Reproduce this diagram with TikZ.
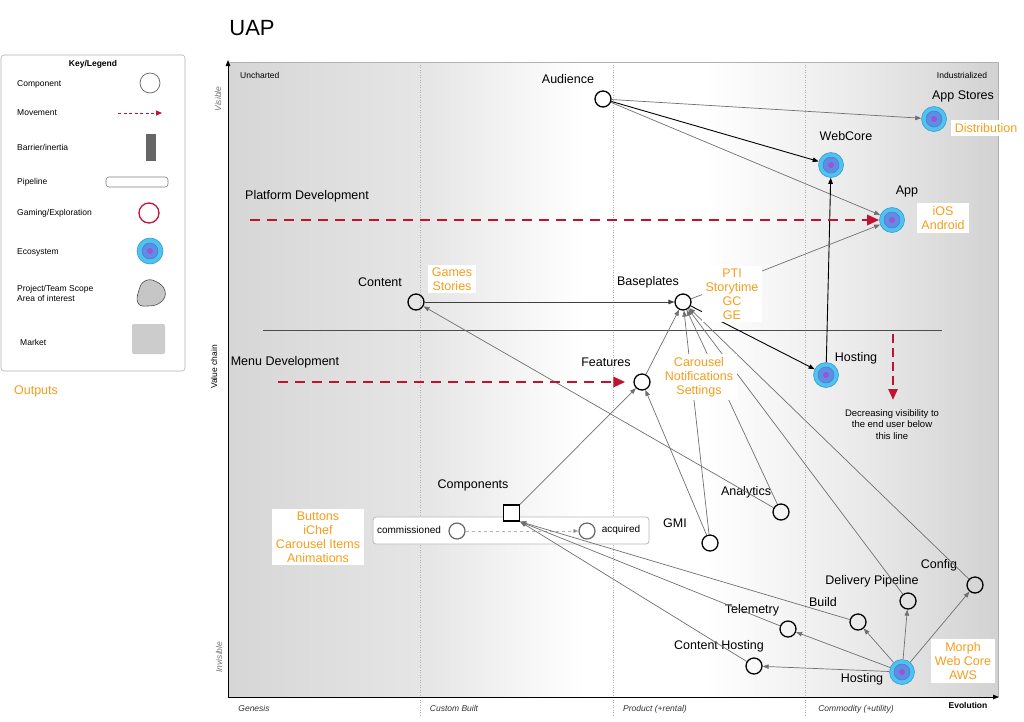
\documentclass[tikz,border=0pt]{standalone}
\usepackage{fontspec}
\setmainfont{Liberation Sans}
\usetikzlibrary{arrows.meta}
\definecolor{ecoout}{HTML}{4EC3F0}
\definecolor{ecoborder}{HTML}{3A9AD0}
\definecolor{ecomid}{HTML}{5E8DE6}
\definecolor{ecomidb}{HTML}{4A78C8}
\definecolor{ecoctr}{HTML}{9A55D0}
\definecolor{outorange}{HTML}{F59E1B}
\definecolor{movred}{HTML}{C0142E}
\definecolor{linegray}{HTML}{707070}
\definecolor{gamered}{HTML}{C0143C}
\definecolor{bgleft}{HTML}{D6D6D6}
\definecolor{bgl2}{HTML}{E6E6E6}
\definecolor{bgr2}{HTML}{EAEAEA}
\definecolor{bgright}{HTML}{D2D2D2}
\pgfdeclarehorizontalshading{mapbg}{100bp}{color(0bp)=(bgleft); color(25bp)=(bgleft); color(38bp)=(bgl2); color(48bp)=(white); color(56bp)=(white); color(66bp)=(bgr2); color(75bp)=(bgright); color(100bp)=(bgright)}
\begin{document}
\begin{tikzpicture}[x=1pt,y=-1pt,
  lbl/.style={font=\fontsize{12.5}{14}\selectfont, inner sep=0pt},
  smalltxt/.style={font=\fontsize{8.5}{10}\selectfont, inner sep=0pt},
  legtxt/.style={font=\fontsize{8.5}{10}\selectfont, inner sep=0pt, anchor=west, align=left},
  stagetxt/.style={font=\itshape\fontsize{8.5}{10}\selectfont, inner sep=0pt, text=black!80},
  outbox/.style={fill=white, text=outorange, align=center, font=\fontsize{12.5}{14}\selectfont, inner xsep=4pt, inner ysep=3pt},
  comp/.style={circle, draw=black, line width=1.3pt, minimum size=16pt, inner sep=0pt},
  pipecirc/.style={circle, draw=black!60, line width=1.2pt, fill=white, minimum size=16pt, inner sep=0pt},
  eco/.style={circle, draw=ecoborder, line width=0.6pt, fill=ecoout, minimum size=25pt, inner sep=0pt,
    path picture={\fill[ecomid,draw=ecomidb,line width=0.5pt] (path picture bounding box.center) circle (8pt);
      \fill[ecoctr] (path picture bounding box.center) circle (3pt);}},
  conn/.style={draw=linegray, line width=0.7pt, -{Triangle[length=6pt,width=4.5pt]}},
  connb/.style={draw=black, line width=0.9pt, -{Triangle[length=6pt,width=4.5pt]}},
  move/.style={draw=movred, line width=2.8pt, dash pattern=on 10pt off 7pt, -{Triangle[length=12pt,width=10pt]}},
  gridln/.style={draw=gray!60, line width=0.5pt, dotted}
]
\useasboundingbox (0,0) rectangle (1024,721);
\fill[white] (0,0) rectangle (1024,721);

% ---------- title ----------
\node[font=\fontsize{22}{24}\selectfont, inner sep=0pt] (title) at (252,28) {UAP};

% ---------- legend ----------
\node[draw=gray!60, line width=0.6pt, rounded corners=3pt, fill=white, minimum width=184pt, minimum height=316pt, inner sep=0pt] (legend) at (93,213) {};
\node[font=\bfseries\fontsize{8.5}{10}\selectfont, inner sep=0pt] (keyt) at (93,64) {Key/Legend};
\node[legtxt] (lcomp) at (17,84) {Component};
\node[circle, draw=black!60, line width=0.7pt, minimum size=20pt, inner sep=0pt] (lcompc) at (150,83) {};
\node[legtxt] (lmove) at (17,113) {Movement};
\coordinate (lmoves) at (118,113);
\coordinate (lmovee) at (162,113);
\draw[draw=movred, line width=0.9pt, dash pattern=on 3pt off 2.5pt, -{Triangle[length=6pt,width=5pt]}] (lmoves) -- (lmovee);
\node[legtxt] (lbar) at (17,147) {Barrier/inertia};
\node[fill=black!60, minimum width=10pt, minimum height=27pt, inner sep=0pt] (lbarr) at (151,147.5) {};
\node[legtxt] (lpipe) at (17,182) {Pipeline};
\node[draw=black!50, line width=0.6pt, rounded corners=3pt, minimum width=62pt, minimum height=10pt, inner sep=0pt] (lpiper) at (137,182) {};
\node[legtxt] (lgame) at (17,213) {Gaming/Exploration};
\node[circle, draw=gamered, line width=1.3pt, minimum size=20pt, inner sep=0pt] (lgamec) at (149,213) {};
\node[legtxt] (leco) at (17,252) {Ecosystem};
\node[eco, minimum size=26pt] (lecoc) at (150,251) {};
\node[legtxt] (lscope) at (17,293.5) {Project/Team Scope\\Area of interest};
\draw[fill=gray!45, draw=black!70, line width=0.6pt] plot[smooth cycle, tension=0.8] coordinates {(145,281) (156,281.5) (165,291) (161,302) (148,306) (138,303) (139,290)};
\node[legtxt] (lmarket) at (20,342) {Market};
\node[fill=gray!40, rounded corners=2pt, minimum width=33pt, minimum height=30pt, inner sep=0pt] (lmarketr) at (148.5,339) {};
\node[font=\fontsize{12.5}{14}\selectfont, text=outorange, inner sep=0pt] (outputs) at (36,391) {Outputs};

% ---------- map background ----------
\shade[shading=mapbg] (228,62) rectangle (998,697);
\draw[gray!60, line width=0.6pt] (228,62) -- (998,62) -- (998,697);
\draw[gridln] (420,62) -- (420,716);
\draw[gridln] (613,62) -- (613,716);
\draw[gridln] (805,62) -- (805,716);
\draw[line width=1pt, -{Triangle[length=6pt,width=4.5pt]}] (228,697) -- (228,60);
\draw[line width=1pt, -{Triangle[length=6pt,width=4.5pt]}] (228,697) -- (999,697);

\node[smalltxt, anchor=west] (unch) at (240,75) {Uncharted};
\node[smalltxt] (indus) at (962,75) {Industrialized};
\node[font=\bfseries\fontsize{8.5}{10}\selectfont, inner sep=0pt] (evol) at (968,705) {Evolution};
\node[stagetxt] (gen) at (254,708) {Genesis};
\node[stagetxt] (cust) at (454,708) {Custom Built};
\node[stagetxt] (prod) at (655,709) {Product (+rental)};
\node[stagetxt] (commod) at (856,709) {Commodity (+utility)};
\node[font=\itshape\fontsize{8.5}{10}\selectfont, text=black!55, inner sep=0pt, rotate=90] (vis) at (218,99) {Visible};
\node[font=\itshape\fontsize{8.5}{10}\selectfont, text=black!55, inner sep=0pt, rotate=90] (invis) at (219,657) {Invisible};
\node[font=\fontsize{8.5}{10}\selectfont, inner sep=0pt, rotate=90] (vchain) at (214,367) {Value chain};

% visibility line
\coordinate (hl1) at (263,330);
\coordinate (hl2) at (942,330);
\draw[black!70, line width=0.9pt] (hl1) -- (hl2);

% ---------- pipeline ----------
\node[draw=gray!55, line width=0.8pt, fill=white, rounded corners=3pt, minimum width=276pt, minimum height=27pt, inner sep=0pt] (pipe) at (511,530.5) {};
\node[font=\fontsize{10}{12}\selectfont, inner sep=0pt] (commt) at (409,530) {commissioned};
\node[font=\fontsize{10}{12}\selectfont, inner sep=0pt] (acqt) at (621,530) {acquired};
\node[pipecirc] (comm) at (457,531) {};
\node[pipecirc] (acq) at (587,531) {};
\draw[draw=gray!60, line width=0.7pt, dashed, -{Triangle[length=5pt,width=4pt,fill=black!60]}] (comm) -- (acq);

% ---------- components ----------
\node[comp] (audience) at (603,99) {};
\node[lbl] (audiencet) at (568,79) {Audience};
\node[eco] (appstores) at (934,119) {};
\node[lbl] (appstorest) at (963,96) {App Stores};
\node[eco] (webcore) at (831,165) {};
\node[lbl] (webcoret) at (846,136) {WebCore};
\node[eco] (app) at (892,220) {};
\node[lbl] (appt) at (907,191) {App};
\node[comp] (content) at (416,302) {};
\node[lbl] (contentt) at (380,282) {Content};
\node[comp] (baseplates) at (683,302) {};
\node[lbl] (baseplatest) at (648,282) {Baseplates};
\node[comp] (features) at (642,382) {};
\node[lbl] (featurest) at (606,362) {Features};
\node[eco] (hostingup) at (826,375) {};
\node[lbl] (hostingupt) at (856,358) {Hosting};
\node[comp] (analytics) at (781,512) {};
\node[lbl] (analyticst) at (746,492) {Analytics};
\node[comp] (gmi) at (710,543) {};
\node[lbl] (gmit) at (675,523) {GMI};
\node[draw=black, line width=1.3pt, fill=white, minimum size=16pt, inner sep=0pt] (components) at (511.5,513) {};
\node[lbl] (componentst) at (473,485) {Components};
\node[comp] (config) at (975,585) {};
\node[lbl] (configt) at (939,565) {Config};
\node[comp] (delivery) at (908,601) {};
\node[lbl] (deliveryt) at (872,581) {Delivery Pipeline};
\node[comp] (build) at (858,622) {};
\node[lbl] (buildt) at (823,602) {Build};
\node[comp] (telemetry) at (788,629) {};
\node[lbl] (telemetryt) at (752,610) {Telemetry};
\node[comp] (contenthost) at (754,666) {};
\node[lbl] (contenthostt) at (719,646) {Content Hosting};
\node[eco] (hostinglow) at (902,672) {};
\node[lbl] (hostinglowt) at (862,679) {Hosting};

% ---------- connectors ----------
\draw[conn] (audience) -- (appstores);
\draw[connb] (audience) -- (webcore);
\draw[conn] (audience) -- (app);
\draw[connb] (hostingup) -- (webcore);
\draw[conn] (baseplates) -- (app);
\draw[connb, draw=black!75] (content) -- (baseplates);
\draw[connb] (baseplates) -- (hostingup);
\draw[conn] (features) -- (baseplates);
\draw[conn] (components) -- (features);
\draw[conn] (gmi) -- (features);
\draw[conn] (gmi) -- (baseplates);
\draw[conn] (analytics) -- (baseplates);
\draw[conn] (analytics) -- (content);
\draw[conn] (delivery) -- (baseplates);
\draw[conn] (config) -- (baseplates);
\draw[conn] (build) -- (components.south east);
\draw[conn] (telemetry) -- (components.south east);
\draw[conn] (contenthost) -- (components.south east);
\draw[conn] (hostinglow) -- (contenthost);
\draw[conn] (hostinglow) -- (telemetry);
\draw[conn] (hostinglow) -- (build);
\draw[conn] (hostinglow) -- (delivery);
\draw[conn] (hostinglow) -- (config);

% ---------- movements ----------
\node[lbl] (platt) at (307,196) {Platform Development};
\coordinate (platstart) at (250,220);
\draw[move] (platstart) -- (app.west);
\node[lbl] (menut) at (285,362) {Menu Development};
\coordinate (menustart) at (278,382);
\draw[move, shorten >=8pt] (menustart) -- (features.west);
\coordinate (decs) at (893,334);
\coordinate (dece) at (893,400);
\draw[move, line width=2.4pt, dash pattern=on 9pt off 5pt, -{Triangle[length=11pt,width=9pt]}] (decs) -- (dece);
\node[font=\fontsize{9.5}{11.5}\selectfont, align=center, inner sep=0pt] (dect) at (892,424.5) {Decreasing visibility to\\the end user below\\this line};

% ---------- outputs ----------
\node[outbox] (distrib) at (986,128) {Distribution};
\node[outbox] (iosand) at (943,218) {iOS\\Android};
\node[outbox] (games) at (452,279) {Games\\Stories};
\node[outbox] (pti) at (732,294) {PTI\\Storytime\\GC\\GE};
\node[outbox] (carousel) at (699,377) {Carousel\\Notifications\\Settings};
\node[outbox] (buttons) at (318,537) {Buttons\\iChef\\Carousel Items\\Animations};
\node[outbox] (morph) at (963,661) {Morph\\Web Core\\AWS};
\end{tikzpicture}
\end{document}
